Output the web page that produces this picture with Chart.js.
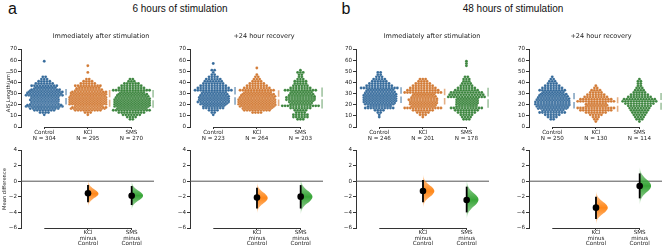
<!DOCTYPE html>
<html>
<head>
<meta charset="utf-8">
<script src="https://cdn.jsdelivr.net/npm/chart.js@4.4.1/dist/chart.umd.min.js"></script>
<style>
  body { margin: 0; width: 668px; height: 251px; position: relative; overflow: hidden; background: #fff; color: #111; }
  canvas { position: absolute; }
  .lbl { position: absolute; white-space: nowrap; line-height: 1; transform: translate(-50%, -50%); font-family: "Liberation Sans", Arial, sans-serif; }
</style>
</head>
<body>
<div class="lbl" style="left:12.5px;top:8.8px;font-size:16px">a</div>
<div class="lbl" style="left:180px;top:9.2px;font-size:10px">6 hours of stimulation</div>
<div class="lbl" style="left:346px;top:8.8px;font-size:16px">b</div>
<div class="lbl" style="left:513px;top:9.2px;font-size:10px">48 hours of stimulation</div>
<script>
// ---- data ----
const GROUPS = ["Control", "KCl", "SMS"];
// swarm values are kept as counts per 2 µm bin, bin centres below
const BIN_MID = [5, 7, 9, 11, 13, 15, 17, 19, 21, 23, 25, 27, 29, 31, 33, 35, 37, 39, 41, 43, 45, 47, 49, 51, 53, 55, 57, 59];

// a) 6 h, immediately after stimulation
const N_6H_IMM = [304, 295, 270];
const CTRL_6H_IMM = [0, 0, 0, 1, 4, 8, 21, 28, 31, 30, 31, 30, 28, 26, 22, 16, 10, 7, 5, 3, 2, 0, 0, 0, 0, 0, 0, 1];
const KCL_6H_IMM  = [0, 0, 0, 1, 3, 10, 26, 30, 28, 28, 28, 28, 26, 26, 20, 17, 10, 6, 4, 2, 0, 0, 1, 0, 0, 1, 0, 0];
const SMS_6H_IMM  = [0, 2, 4, 7, 10, 14, 22, 26, 26, 26, 26, 24, 22, 18, 14, 10, 8, 6, 3, 2, 0, 0, 0, 0, 0, 0, 0, 0];
const MEAN_6H_IMM = [27.2, 25.6, 25.3];
const SD_6H_IMM = [7, 7.5, 8];
const DIFF_6H_IMM = [-1.55, -1.86];
const CILO_6H_IMM = [-2.71, -3.05];
const CIHI_6H_IMM = [-0.49, -0.62];
const VIO_Y_6H_IMM = [[0.05, -0.46, -0.86, -1.26, -1.6, -1.94, -2.34, -2.74, -3.25], [-0.05, -0.61, -1.04, -1.48, -1.85, -2.22, -2.66, -3.09, -3.65]];
const VIO_W_6H_IMM = [[0, 0.034, 0.1, 0.2, 0.24, 0.2, 0.1, 0.034, 0], [0, 0.036, 0.11, 0.22, 0.26, 0.22, 0.11, 0.036, 0]];

// a) 6 h, +24 hour recovery
const N_6H_REC = [223, 264, 203];
const CTRL_6H_REC = [0, 0, 0, 1, 2, 4, 8, 16, 20, 23, 22, 22, 20, 18, 14, 12, 10, 8, 7, 6, 4, 2, 1, 2, 0, 0, 1, 0];
const KCL_6H_REC  = [0, 0, 0, 0, 4, 10, 22, 26, 28, 28, 28, 26, 24, 20, 13, 10, 8, 6, 4, 3, 2, 1, 0, 0, 1, 0, 0, 0];
const SMS_6H_REC  = [0, 3, 6, 6, 4, 5, 8, 14, 16, 18, 21, 21, 18, 16, 12, 8, 6, 5, 5, 3, 2, 2, 3, 1, 0, 0, 0, 0];
const MEAN_6H_REC = [28.0, 25.9, 26.0];
const SD_6H_REC = [8, 7, 9.5];
const DIFF_6H_REC = [-2.1, -1.98];
const CILO_6H_REC = [-3.5, -3.5];
const CIHI_6H_REC = [-0.83, -0.5];
const VIO_Y_6H_REC = [[-0.18, -0.79, -1.27, -1.74, -2.15, -2.56, -3.03, -3.51, -4.12], [0.23, -0.46, -1.0, -1.54, -2.0, -2.46, -3.0, -3.54, -4.23]];
const VIO_W_6H_REC = [[0, 0.034, 0.105, 0.205, 0.245, 0.205, 0.105, 0.034, 0], [0, 0.038, 0.116, 0.227, 0.27, 0.227, 0.116, 0.038, 0]];

// b) 48 h, immediately after stimulation
const N_48H_IMM = [246, 201, 178];
const CTRL_48H_IMM = [0, 0, 1, 1, 2, 4, 11, 17, 22, 24, 24, 24, 24, 22, 20, 14, 10, 8, 6, 5, 3, 2, 2, 0, 0, 0, 0, 0];
const KCL_48H_IMM  = [0, 0, 1, 3, 5, 8, 14, 18, 20, 20, 21, 18, 16, 14, 12, 10, 8, 6, 4, 3, 0, 0, 0, 0, 0, 0, 0, 0];
const SMS_48H_IMM  = [0, 3, 4, 5, 7, 9, 12, 15, 16, 16, 16, 14, 13, 12, 9, 7, 5, 4, 3, 3, 2, 0, 0, 0, 0, 1, 1, 1];
const MEAN_48H_IMM = [28.6, 27.3, 26.2];
const SD_48H_IMM = [7, 7, 9];
const DIFF_48H_IMM = [-1.26, -2.41];
const CILO_48H_IMM = [-2.71, -4.0];
const CIHI_48H_IMM = [0.15, -0.7];
const VIO_Y_48H_IMM = [[0.85, 0.19, -0.32, -0.83, -1.27, -1.71, -2.22, -2.73, -3.39], [0.06, -0.7, -1.29, -1.88, -2.38, -2.88, -3.47, -4.06, -4.82]];
const VIO_W_48H_IMM = [[0, 0.036, 0.11, 0.22, 0.26, 0.22, 0.11, 0.036, 0], [0, 0.038, 0.116, 0.227, 0.27, 0.227, 0.116, 0.038, 0]];

// b) 48 h, +24 hour recovery
const N_48H_REC = [250, 130, 114];
const CTRL_48H_REC = [0, 2, 4, 6, 10, 16, 22, 24, 25, 25, 24, 22, 20, 16, 10, 8, 6, 4, 3, 2, 1, 0, 0, 0, 0, 0, 0, 0];
const KCL_48H_REC  = [1, 2, 3, 5, 8, 12, 14, 16, 15, 14, 12, 9, 7, 5, 4, 2, 1, 0, 0, 0, 0, 0, 0, 0, 0, 0, 0, 0];
const SMS_48H_REC  = [1, 3, 4, 5, 6, 7, 8, 9, 11, 13, 12, 9, 7, 5, 4, 3, 2, 2, 2, 1, 0, 0, 0, 0, 0, 0, 0, 0];
const MEAN_48H_REC = [23.6, 20.2, 23.0];
const SD_48H_REC = [7, 6.5, 7.5];
const DIFF_48H_REC = [-3.39, -0.62];
const CILO_48H_REC = [-4.85, -2.2];
const CIHI_48H_REC = [-1.98, 1.0];
const VIO_Y_48H_REC = [[-1.28, -1.94, -2.45, -2.96, -3.4, -3.84, -4.35, -4.86, -5.52], [1.78, 1.04, 0.47, -0.11, -0.6, -1.09, -1.67, -2.24, -2.98]];
const VIO_W_48H_REC = [[0, 0.038, 0.116, 0.227, 0.27, 0.227, 0.116, 0.038, 0], [0, 0.036, 0.11, 0.22, 0.26, 0.22, 0.11, 0.036, 0]];

const SUBTITLES = ["Immediately after stimulation", "+24 hour recovery", "Immediately after stimulation", "+24 hour recovery"];

// ---- layout / style ----
const AXIS_X = [21, 190, 356, 529];
const TITLE_X = [101, 264, 432, 601];
const TOP_Y = 28, BOT_Y = 145;
const XMIN = -0.533, XMAX = 2.511;
const ROW_CAP = 14, DOT_DX = 0.064, GAP = 1.2;
const SWARM_COL = ["#33699a", "#d27a34", "#3a843c"];
const GAPLINE_COL = ["rgba(51,105,154,0.6)", "rgba(210,122,52,0.6)", "rgba(58,132,60,0.6)"];
const VIO_RGB = [[255, 135, 25], [55, 165, 55]];
const tickFont = { family: "DejaVu Sans", size: 5.6 };
const INK = "#333";

const panels = [
  { n: N_6H_IMM, counts: [CTRL_6H_IMM, KCL_6H_IMM, SMS_6H_IMM], mean: MEAN_6H_IMM, sd: SD_6H_IMM, diff: DIFF_6H_IMM, lo: CILO_6H_IMM, hi: CIHI_6H_IMM, vy: VIO_Y_6H_IMM, vw: VIO_W_6H_IMM },
  { n: N_6H_REC, counts: [CTRL_6H_REC, KCL_6H_REC, SMS_6H_REC], mean: MEAN_6H_REC, sd: SD_6H_REC, diff: DIFF_6H_REC, lo: CILO_6H_REC, hi: CIHI_6H_REC, vy: VIO_Y_6H_REC, vw: VIO_W_6H_REC },
  { n: N_48H_IMM, counts: [CTRL_48H_IMM, KCL_48H_IMM, SMS_48H_IMM], mean: MEAN_48H_IMM, sd: SD_48H_IMM, diff: DIFF_48H_IMM, lo: CILO_48H_IMM, hi: CIHI_48H_IMM, vy: VIO_Y_48H_IMM, vw: VIO_W_48H_IMM },
  { n: N_48H_REC, counts: [CTRL_48H_REC, KCL_48H_REC, SMS_48H_REC], mean: MEAN_48H_REC, sd: SD_48H_REC, diff: DIFF_48H_REC, lo: CILO_48H_REC, hi: CIHI_48H_REC, vy: VIO_Y_48H_REC, vw: VIO_W_48H_REC },
];

function makeCanvas(left, top, w, h) {
  const c = document.createElement("canvas");
  c.width = w; c.height = h;
  c.style.left = left + "px"; c.style.top = top + "px";
  document.body.appendChild(c);
  return c;
}

// beeswarm-ish placement: each bin becomes one or more rows of dots
function swarm(counts, cat) {
  const pts = [];
  counts.forEach((c, i) => {
    if (!c) return;
    const rows = Math.ceil(c / ROW_CAP);
    let left = c;
    for (let r = 0; r < rows; r++) {
      const n = Math.ceil(left / (rows - r));
      left -= n;
      const y = BIN_MID[i] - 1 + (r + 0.5) * 2 / rows;
      const shift = (r % 2) ? DOT_DX / 2 : 0;
      for (let k = 0; k < n; k++) {
        let off = (k - (n - 1) / 2) * DOT_DX + shift;
        if (off > (ROW_CAP - 1) / 2 * DOT_DX) off -= DOT_DX;
        pts.push({ x: cat + off, y });
      }
    }
  });
  return pts;
}

const rgba = (c, a) => `rgba(${c[0]},${c[1]},${c[2]},${a})`;

function violinFill(rgb, ys) {
  return (ctx) => {
    const chart = ctx.chart;
    if (!chart.chartArea) return rgba(rgb, 0.8);
    const y = chart.scales.y;
    const g = chart.ctx.createLinearGradient(0, y.getPixelForValue(ys[0]), 0, y.getPixelForValue(ys[ys.length - 1]));
    g.addColorStop(0, rgba(rgb, 0.1));
    g.addColorStop(0.22, rgba(rgb, 0.65));
    g.addColorStop(0.5, rgba(rgb, 1));
    g.addColorStop(0.78, rgba(rgb, 0.65));
    g.addColorStop(1, rgba(rgb, 0.1));
    return g;
  };
}

// trimmed x spine from Control to SMS
const spine = {
  id: "spine",
  afterDraw(chart) {
    const x = chart.scales.x, c = chart.ctx, y = chart.chartArea.bottom + 0.5;
    c.save();
    c.strokeStyle = INK; c.lineWidth = 1;
    c.beginPath();
    c.moveTo(x.getPixelForValue(0), y);
    c.lineTo(x.getPixelForValue(2), y);
    c.stroke();
    c.restore();
  }
};

// panel subtitles and axis titles, drawn on the chart canvas
function textPlugin(items) {
  return {
    id: "panelText",
    afterDraw(chart) {
      const c = chart.ctx;
      items.forEach((t) => {
        c.save();
        c.font = t.size + 'px "DejaVu Sans"';
        c.fillStyle = "#1a1a1a";
        c.textAlign = "center";
        c.textBaseline = "middle";
        c.translate(t.x, t.y);
        if (t.rotate) c.rotate(-Math.PI / 2);
        c.fillText(t.text, 0, 0);
        c.restore();
      });
    }
  };
}

function baseOptions(padTop, xHeight, ticksAt, labelFn, lineHeight, yMin, yMax, yStep) {
  return {
    responsive: false, animation: false, devicePixelRatio: 1, events: [],
    layout: { padding: { top: padTop, left: 0, right: 0, bottom: 0 } },
    plugins: { legend: { display: false }, tooltip: { enabled: false } },
    scales: {
      x: {
        type: "linear", min: XMIN, max: XMAX,
        afterFit: (a) => { a.height = xHeight; },
        afterBuildTicks: (a) => { a.ticks = ticksAt.map((v) => ({ value: v })); },
        grid: { display: true, drawOnChartArea: false, tickLength: 2, color: INK },
        border: { display: false },
        ticks: { font: { ...tickFont, lineHeight }, color: "#222", padding: 0, maxRotation: 0, autoSkip: false, callback: labelFn }
      },
      y: {
        min: yMin, max: yMax,
        afterFit: (a) => { a.width = 22; },
        grid: { display: true, drawOnChartArea: false, tickLength: 3, color: INK },
        border: { color: INK },
        ticks: { stepSize: yStep, font: tickFont, color: "#222", padding: 1, callback: (v) => String(v).replace("-", "\u2212") }
      }
    }
  };
}

panels.forEach((p, i) => {
  const ax = AXIS_X[i];
  const left = ax - 22;

  // --- swarm panel ---
  const top = [];
  p.counts.forEach((cnt, g) => {
    top.push({ data: swarm(cnt, g), pointRadius: 1.45, pointBackgroundColor: SWARM_COL[g], pointBorderColor: "rgba(255,255,255,0.45)", pointBorderWidth: 0.3 });
  });
  p.mean.forEach((m, g) => {
    const x = g + 0.5;
    [[m + GAP, m + p.sd[g]], [m - GAP, m - p.sd[g]]].forEach(([a, b]) => {
      top.push({ data: [{ x, y: a }, { x, y: b }], showLine: true, borderColor: GAPLINE_COL[g], borderWidth: 1.6, pointRadius: 0 });
    });
  });
  const topText = [{ text: SUBTITLES[i], x: TITLE_X[i] - left, y: 36 - TOP_Y, size: 6.5 }];
  if (i === 0) topText.push({ text: "AIS Length(\u00b5m)", x: 9 - left, y: 92 - TOP_Y, size: 5.2, rotate: true });
  new Chart(makeCanvas(left, TOP_Y, 159, 119), {
    type: "scatter",
    data: { datasets: top },
    options: baseOptions(49 - TOP_Y, 20, [0, 1, 2], (v) => [GROUPS[v], "N = " + p.n[v]], 1.15, 0, 70, 10),
    plugins: [spine, textPlugin(topText)]
  });

  // --- mean difference panel ---
  const bot = [];
  bot.push({ data: [{ x: XMIN, y: 0 }, { x: XMAX, y: 0 }], showLine: true, borderColor: "#555", borderWidth: 1, pointRadius: 0, order: 3 });
  [0, 1].forEach((k) => {
    const cat = k + 1;
    const outline = p.vy[k].map((y, j) => ({ x: cat + p.vw[k][j], y }));
    bot.push({ data: outline, showLine: true, fill: "shape", tension: 0.4, borderWidth: 0, borderColor: "rgba(0,0,0,0)", pointRadius: 0, backgroundColor: violinFill(VIO_RGB[k], p.vy[k]), order: 2 });
    bot.push({ data: [{ x: cat, y: p.lo[k] }, { x: cat, y: p.hi[k] }], showLine: true, borderColor: "#000", borderWidth: 1.8, pointRadius: 0, order: 1 });
    bot.push({ data: [{ x: cat, y: p.diff[k] }], pointRadius: 3.3, pointBackgroundColor: "#000", pointBorderWidth: 0, order: 0 });
  });
  const botText = i === 0 ? [{ text: "Mean difference", x: 5 - left, y: 189 - BOT_Y, size: 5.2, rotate: true }] : [];
  new Chart(makeCanvas(left, BOT_Y, 159, 106), {
    type: "scatter",
    data: { datasets: bot },
    options: baseOptions(150 - BOT_Y, 23, [1, 2], (v) => [GROUPS[v], "minus", GROUPS[0]], 0.98, -6, 4, 2),
    plugins: [spine, textPlugin(botText)]
  });
});
</script>
</body>
</html>
